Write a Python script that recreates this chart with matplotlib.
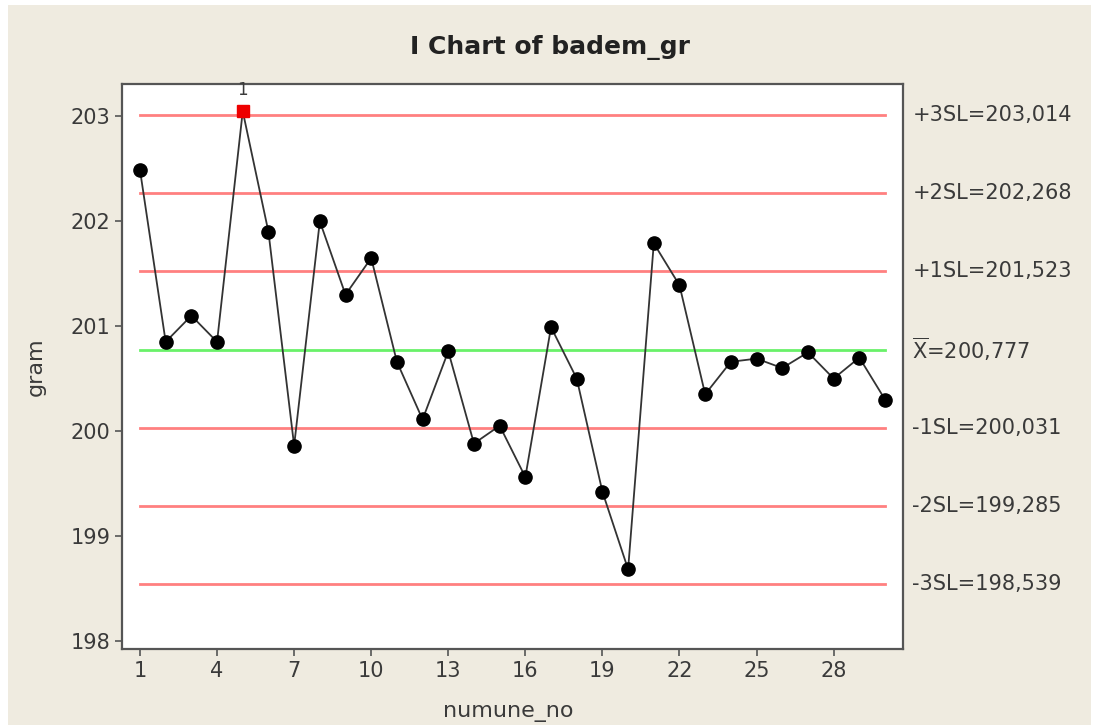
import numpy as np
import matplotlib.pyplot as plt
from matplotlib.patches import Rectangle

# данные карты
sample_no = np.arange(1, 31)
gram = [202.49, 200.85, 201.10, 200.85, 203.05, 201.90, 199.86, 202.00, 201.30, 201.65,
        200.66, 200.11, 200.76, 199.88, 200.05, 199.56, 200.99, 200.50, 199.42, 198.68,
        201.79, 201.39, 200.35, 200.66, 200.69, 200.60, 200.75, 200.50, 200.70, 200.30]
mean_line = 200.777
sigma_lines = [203.014, 202.268, 201.523, 200.031, 199.285, 198.539]
sigma_labels = ["+3SL=203,014", "+2SL=202,268", "+1SL=201,523",
                "-1SL=200,031", "-2SL=199,285", "-3SL=198,539"]
mean_label = r"$\overline{\mathrm{X}}$=200,777"
out_point = 5  # точка вне границ

bg = "#efebe0"
txt = "#3a3a3a"

fig = plt.figure(figsize=(11.01, 7.28), dpi=100, facecolor="white")
fig.patches.append(Rectangle((8 / 1101, 3 / 728), 1083 / 1101, 720 / 728,
                             transform=fig.transFigure, facecolor=bg, edgecolor="none", zorder=-1))
ax = fig.add_axes([122 / 1101, 1 - 649 / 728, 781 / 1101, 565 / 728])
ax.set_facecolor("white")

# контрольные линии
for v in sigma_lines:
    ax.plot([sample_no[0], sample_no[-1]], [v, v], color="#ff5555", lw=2, alpha=0.75, zorder=1)
ax.plot([sample_no[0], sample_no[-1]], [mean_line, mean_line], color="#44ee44", lw=2, alpha=0.8, zorder=1)

# ряд
ax.plot(sample_no, gram, color="#333333", lw=1.3, zorder=2)
mask = sample_no != out_point
ax.plot(sample_no[mask], np.array(gram)[mask], "o", color="black", ms=9.5, zorder=3)
ax.plot([out_point], [gram[out_point - 1]], "s", color="#ee0000", ms=8.5, zorder=3)
ax.text(out_point, gram[out_point - 1] + 0.12, "1", ha="center", va="bottom",
        fontsize=12, color=txt)

ax.set_xlim(0.3, 30.7)
ax.set_ylim(197.92, 203.31)
ax.set_xticks(np.arange(1, 29, 3))
ax.set_yticks(np.arange(198, 204, 1))
ax.tick_params(direction="out", length=5, width=1.2, colors="#555555",
               labelcolor=txt, labelsize=15)
for s in ax.spines.values():
    s.set_color("#555555")
    s.set_linewidth(1.6)

# подписи справа
for v, lab in zip(sigma_lines, sigma_labels):
    ax.text(1.012, v, lab, transform=ax.get_yaxis_transform(), ha="left", va="center",
            fontsize=15, color=txt, clip_on=False)
ax.text(1.012, mean_line, mean_label, transform=ax.get_yaxis_transform(), ha="left",
        va="center", fontsize=15, color=txt, clip_on=False)

fig.suptitle("I Chart of badem_gr", x=0.5, y=1 - 48 / 728, va="center",
             fontsize=18, fontweight="bold", color="#222222")
ax.set_xlabel("numune_no", fontsize=16, color=txt, va="center")
ax.set_ylabel("gram", fontsize=16, color=txt, va="center")
ax.xaxis.set_label_coords(0.494, -0.112)
ax.yaxis.set_label_coords(-0.110, 0.5)

fig.savefig("out.png", dpi=100, facecolor=fig.get_facecolor())
